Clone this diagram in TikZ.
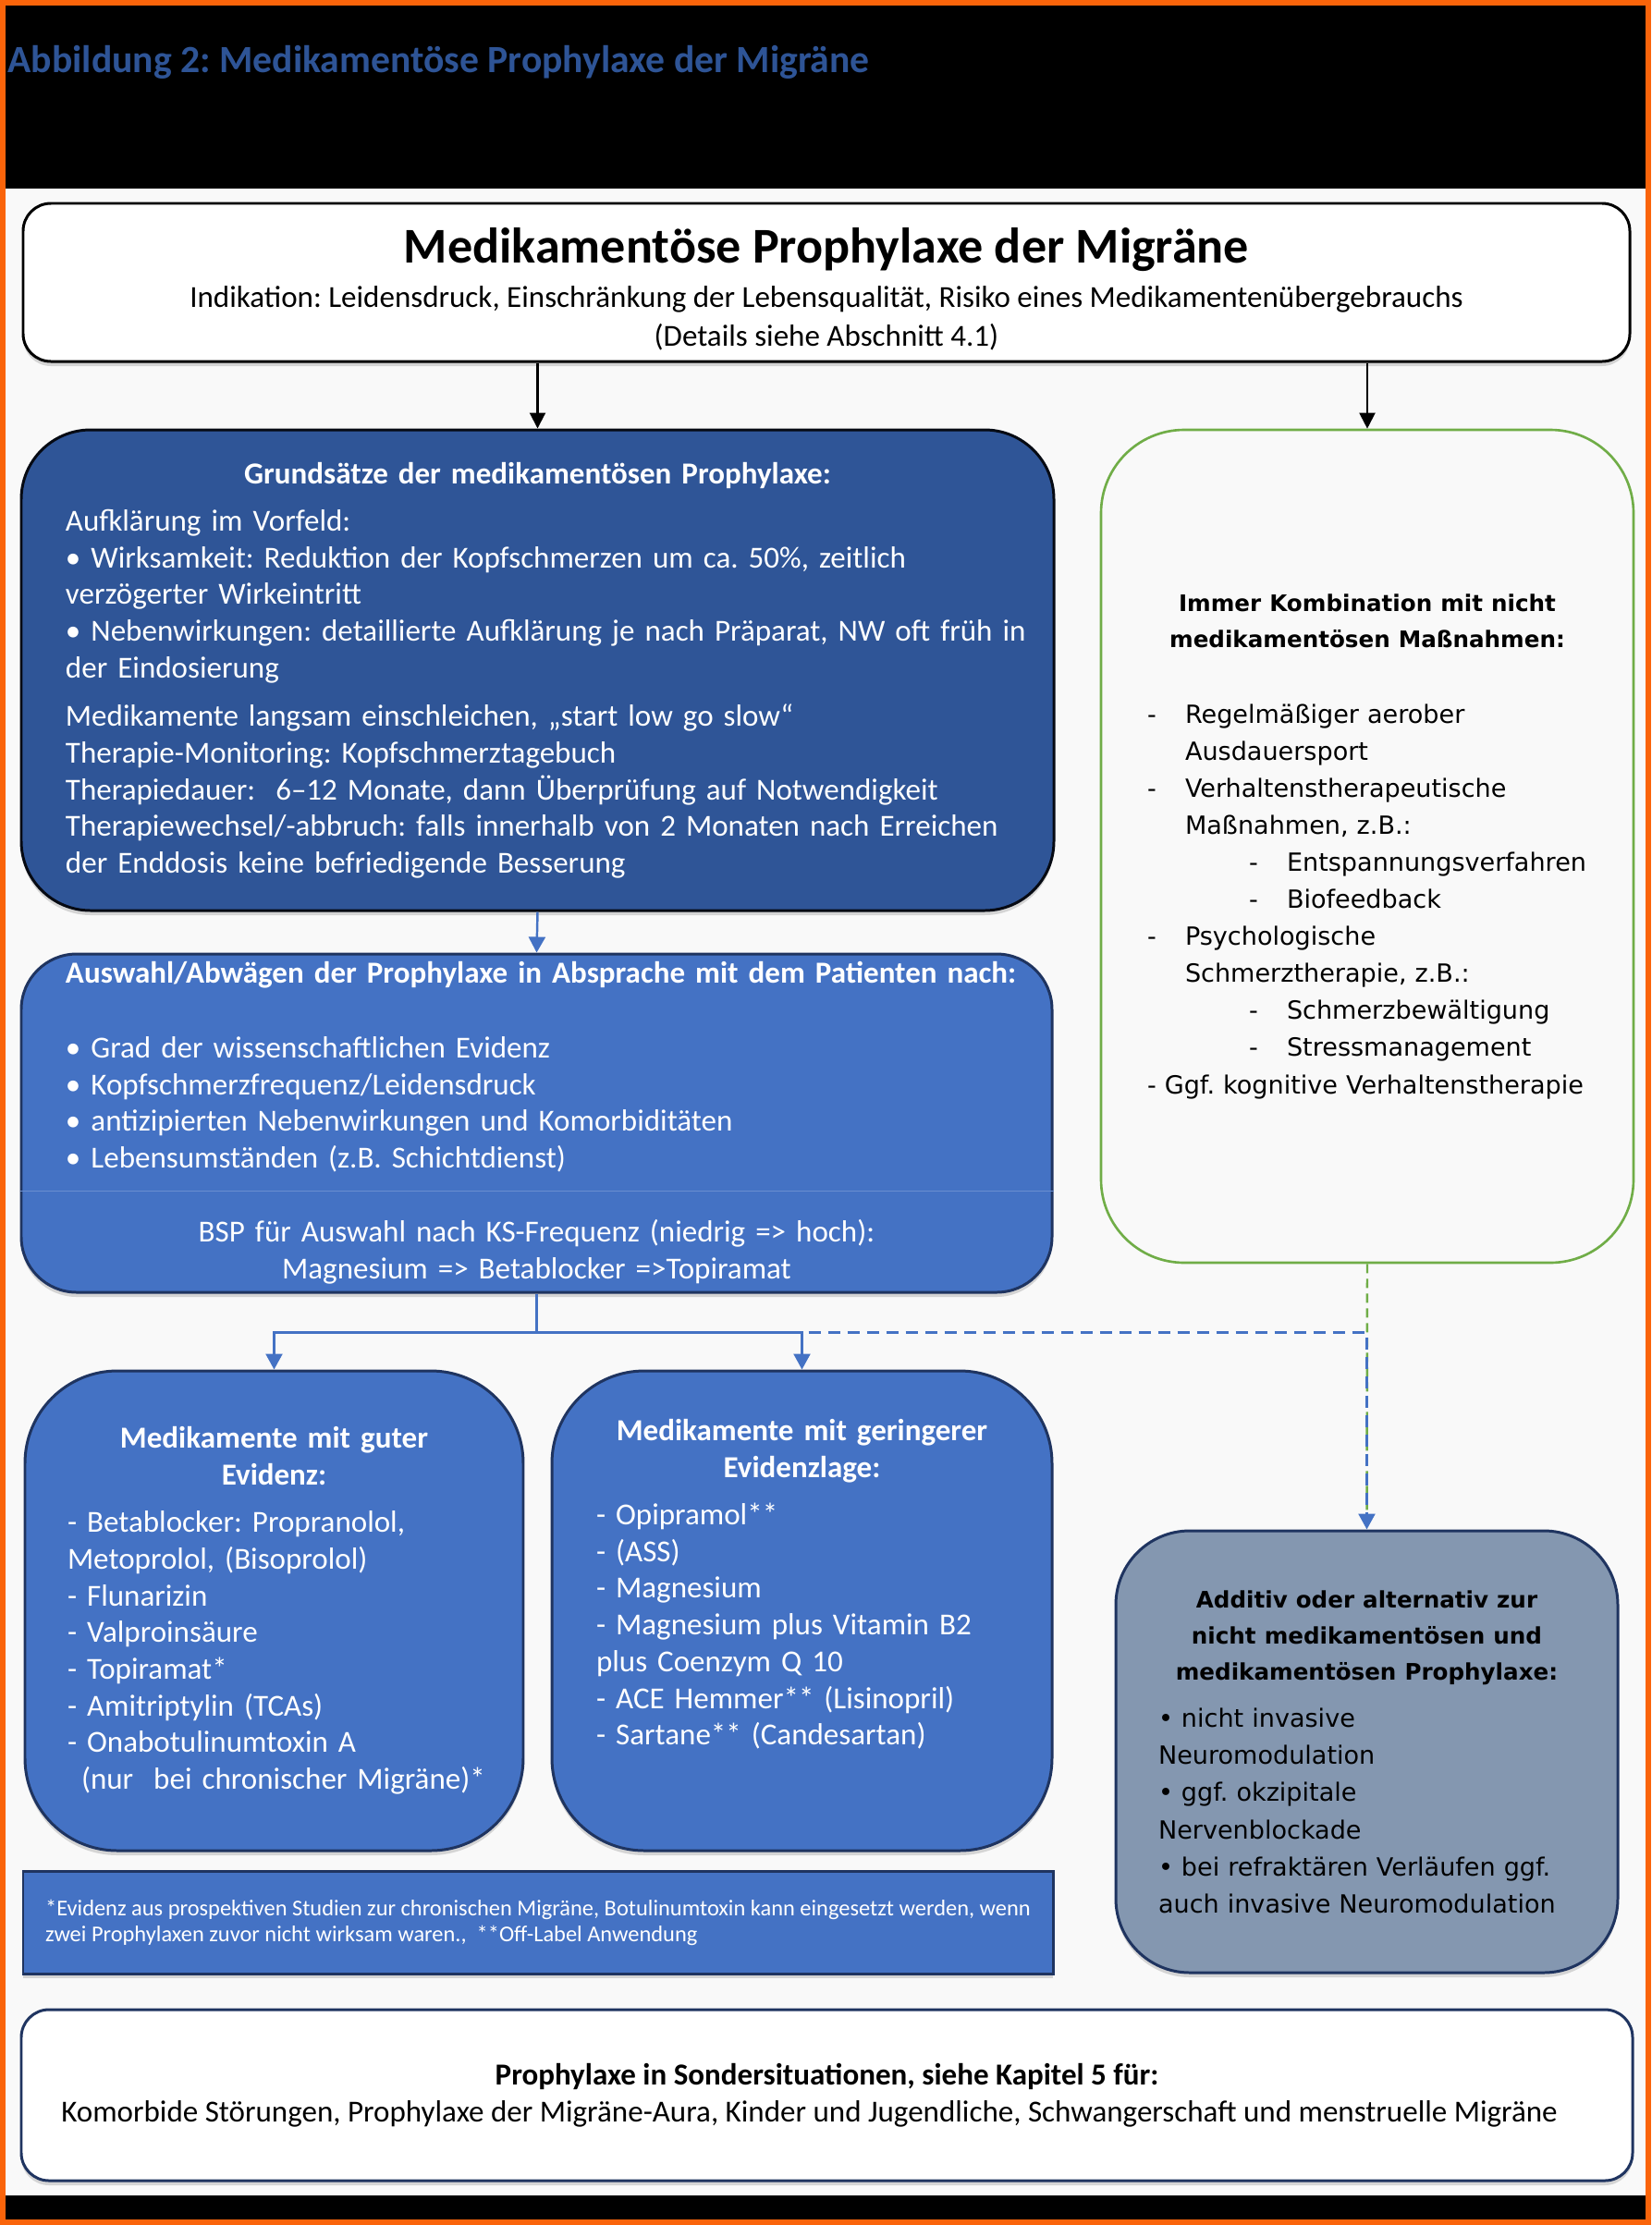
\documentclass[tikz,border=0pt]{standalone}
\usepackage{fontspec}
\setmainfont{Carlito}
\newfontfamily\verdana{DejaVu Sans}
\usetikzlibrary{arrows.meta,shadows}
\definecolor{mig@orange}{RGB}{250,100,10}
\definecolor{mig@paper}{RGB}{249,249,249}
\definecolor{mig@head}{RGB}{46,84,150}
\definecolor{mig@dark}{RGB}{47,85,151}
\definecolor{mig@blue}{RGB}{68,114,196}
\definecolor{mig@grey}{RGB}{132,151,176}
\definecolor{mig@green}{RGB}{112,173,71}
\definecolor{mig@navy}{RGB}{31,52,96}
\newcommand\migbody{\fontsize{9.4pt}{11.3pt}\selectfont}
\newcommand\migsmall{\fontsize{6.95pt}{8pt}\selectfont}
\newcommand\migverd{\verdana\fontsize{7.7pt}{11.4pt}\selectfont}
\newcommand\migverdhead{\verdana\bfseries\fontsize{7pt}{11.2pt}\selectfont}
\newcommand\migdash[1][0cm]{\hspace*{#1}\makebox[0.41cm][l]{-}}
\frenchspacing

\begin{document}
\begin{tikzpicture}[
  panel/.style={line width=0.85pt, inner sep=0pt, font=\migbody, align=left},
  bluepanel/.style={panel, draw=mig@navy, fill=mig@blue, text=white,
    drop shadow={shadow xshift=0pt, shadow yshift=-0.05cm, opacity=0.3}},
  blackarrow/.style={-{Triangle[width=0.17cm,length=0.17cm]}, line width=0.6pt},
  bluearrow/.style={-{Triangle[width=0.18cm,length=0.17cm]}, mig@blue, line width=0.7pt},
  bluedash/.style={bluearrow, dash pattern=on 0.13cm off 0.08cm},
  greendash/.style={mig@green, line width=0.7pt, dash pattern=on 0.1cm off 0.06cm},
]

\useasboundingbox (0,0) rectangle (17.86,-24.07);

% frame and black bands
\fill[mig@orange] (0,0) rectangle (17.86,-24.07);
\fill[mig@paper] (0.06,-0.06) rectangle (17.80,-24.01);
\fill[black] (0.06,-0.06) rectangle (17.80,-2.04);
\fill[black] (0.06,-23.75) rectangle (17.80,-24.01);

\node[anchor=base west, inner sep=0pt, text=mig@head,
  font=\fontsize{11.85pt}{14pt}\selectfont\bfseries] (caption) at (0.08,-0.78)
  {Abbildung 2: Medikamentöse Prophylaxe der Migräne};

% Prophylaxe
\node[panel, draw=black, fill=white, text=black, rounded corners=0.3cm,
  minimum width=17.38cm, minimum height=1.71cm, align=center,
  drop shadow={shadow xshift=0pt, shadow yshift=-0.05cm, opacity=0.3}]
  (prophylaxe) at (8.94,-3.055)
  {{\fontsize{15.4pt}{18pt}\selectfont\bfseries\rule{0pt}{15pt}Medikamentöse Prophylaxe der Migräne}\\[2.4pt]
   Indikation: Leidensdruck, Einschränkung der Lebensqualität, Risiko eines Medikamentenübergebrauchs\\[0.7pt]
   (Details siehe Abschnitt 4.1)};

% Grundsaetze
\node[bluepanel, draw=black!80!mig@navy, fill=mig@dark, rounded corners=0.75cm,
  minimum width=11.17cm, minimum height=5.2cm, text width=10.21cm]
  (grund) at (5.815,-7.25)
  {{\centering\bfseries Grundsätze der medikamentösen Prophylaxe:\par}\vspace{3.3pt}
   Aufklärung im Vorfeld:\\
   • Wirksamkeit: Reduktion der Kopfschmerzen um ca. 50\%, zeitlich\\
   verzögerter Wirkeintritt\\
   \mbox{• Nebenwirkungen: detaillierte Aufklärung je nach Präparat, NW oft früh in}\\
   der Eindosierung\\[3.6pt]
   Medikamente langsam einschleichen, „start low go slow“\\
   Therapie-Monitoring: Kopfschmerztagebuch\\
   Therapiedauer:~ 6–12 Monate, dann Überprüfung auf Notwendigkeit\\
   \mbox{Therapiewechsel/-abbruch: falls innerhalb von 2 Monaten nach Erreichen}\\
   der Enddosis keine befriedigende Besserung};

% Kombination
\node[panel, draw=mig@green, fill=mig@paper, text=black, line width=0.75pt,
  rounded corners=0.9cm, font=\migverd,
  minimum width=5.76cm, minimum height=9.01cm, text width=4.76cm]
  (kombi) at (14.79,-9.155)
  {{\centering\migverdhead Immer Kombination mit nicht\\ medikamentösen Maßnahmen:\par}\vspace{11.9pt}
   \migdash Regelmäßiger aerober\\
   \hspace*{0.41cm}Ausdauersport\\
   \migdash Verhaltenstherapeutische\\
   \hspace*{0.41cm}Maßnahmen, z.B.:\\
   \mbox{\migdash[1.1cm]Entspannungsverfahren}\\
   \migdash[1.1cm]Biofeedback\\
   \migdash Psychologische\\
   \hspace*{0.41cm}Schmerztherapie, z.B.:\\
   \migdash[1.1cm]Schmerzbewältigung\\
   \migdash[1.1cm]Stressmanagement\\
   \mbox{- Ggf. kognitive Verhaltenstherapie}};

% Auswahl
\node[bluepanel, rounded corners=0.6cm,
  minimum width=11.15cm, minimum height=3.66cm, text width=10.19cm]
  (auswahl) at (5.805,-12.15)
  {{\centering\bfseries\mbox{Auswahl/Abwägen der Prophylaxe in Absprache mit dem Patienten nach:}\par}\vspace{11.6pt}
   • Grad der wissenschaftlichen Evidenz\\
   • Kopfschmerzfrequenz/Leidensdruck\\
   • antizipierten Nebenwirkungen und Komorbiditäten\\
   • Lebensumständen (z.B. Schichtdienst)\par\vspace{11.6pt}
   {\centering BSP für Auswahl nach KS-Frequenz (niedrig => hoch):\\
   Magnesium => Betablocker =>Topiramat\par}};
\draw[mig@blue!80!white, line width=0.4pt]
  ([yshift=-2.58cm]auswahl.north west) -- ([yshift=-2.58cm]auswahl.north east);

% Gute Evidenz
\node[bluepanel, rounded corners=1cm,
  minimum width=5.39cm, minimum height=5.19cm, text width=4.47cm]
  (gut) at (2.965,-17.425)
  {{\centering\bfseries Medikamente mit guter\\ Evidenz:\par}\vspace{3.2pt}
   - Betablocker: Propranolol,\\
   Metoprolol, (Bisoprolol)\\
   - Flunarizin\\
   - Valproinsäure\\
   - Topiramat*\\
   - Amitriptylin (TCAs)\\
   - Onabotulinumtoxin A\\
   \mbox{\hspace*{0.15cm}(nur~ bei chronischer Migräne)*}};

% Geringere Evidenz
\node[bluepanel, rounded corners=1cm,
  minimum width=5.41cm, minimum height=5.19cm, text width=4.45cm]
  (geringer) at (8.675,-17.425)
  {{\centering\bfseries Medikamente mit geringerer\\ Evidenzlage:\par}\vspace{3.2pt}
   - Opipramol**\\
   - (ASS)\\
   - Magnesium\\
   - Magnesium plus Vitamin B2\\
   plus Coenzym Q 10\\
   - ACE Hemmer** (Lisinopril)\\
   - Sartane** (Candesartan)\par\vspace{0.22cm}\mbox{}};

% Fussnote
\node[bluepanel, minimum width=11.14cm, minimum height=1.11cm, font=\migsmall]
  (fussnote) at (5.82,-20.795)
  {*Evidenz aus prospektiven Studien zur chronischen Migräne, Botulinumtoxin kann eingesetzt werden, wenn\\
   zwei Prophylaxen zuvor nicht wirksam waren.,~ **Off-Label Anwendung};

% Additiv
\node[bluepanel, fill=mig@grey, text=black, rounded corners=0.8cm, font=\migverd,
  minimum width=5.43cm, minimum height=4.78cm, text width=4.51cm]
  (additiv) at (14.785,-18.95)
  {{\centering\migverdhead Additiv oder alternativ zur\\ nicht medikamentösen und\\ medikamentösen Prophylaxe:\par}\vspace{3.1pt}
   • nicht invasive\\
   Neuromodulation\\
   • ggf. okzipitale\\
   Nervenblockade\\
   • bei refraktären Verläufen ggf.\\
   auch invasive Neuromodulation};

% Sondersituationen
\node[panel, draw=mig@navy, fill=white, text=black, rounded corners=0.3cm,
  minimum width=17.43cm, minimum height=1.85cm, align=center,
  drop shadow={shadow xshift=0pt, shadow yshift=-0.05cm, opacity=0.3}]
  (sonder) at (8.945,-22.665)
  {\textbf{Prophylaxe in Sondersituationen, siehe Kapitel 5 für:}\\
   Komorbide Störungen, Prophylaxe der Migräne-Aura, Kinder und Jugendliche, Schwangerschaft und menstruelle Migräne\hspace*{0.38cm}};

% connectors
\coordinate (split) at ([yshift=-0.42cm]auswahl.south);
\draw[blackarrow] (prophylaxe.south -| grund.north) -- (grund.north);
\draw[blackarrow] (prophylaxe.south -| kombi.north) -- (kombi.north);
\draw[bluearrow] (grund.south) -- (auswahl.north);
\draw[greendash] (kombi.south) -- (additiv.north);
\draw[bluedash] (split) -| (additiv.north);
\draw[bluearrow] (auswahl.south) -- (split) -| (gut.north);
\draw[bluearrow] (split) -| (geringer.north);

\end{tikzpicture}
\end{document}
